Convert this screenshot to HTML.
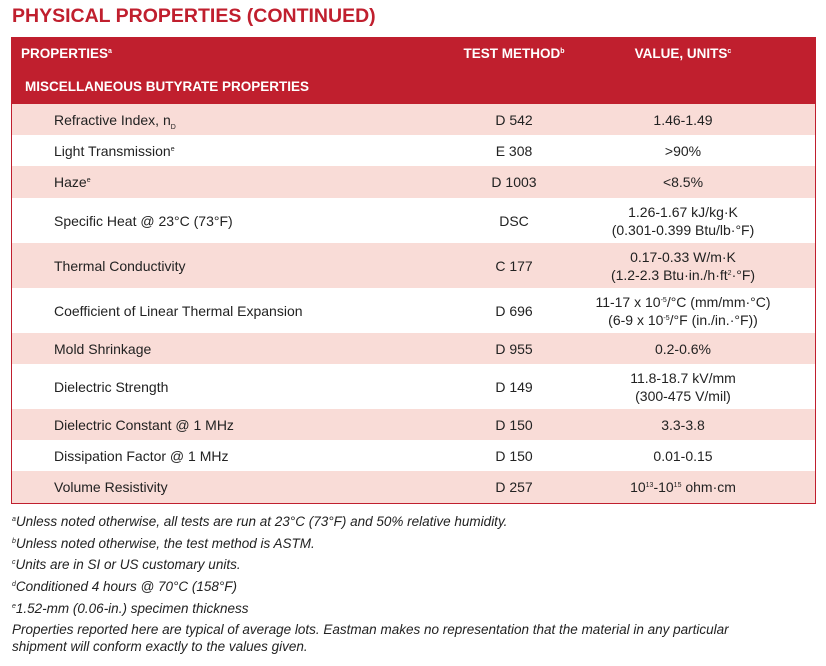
<!DOCTYPE html>
<html><head><style>
body{margin:0;width:826px;height:666px;background:#fff;font-family:"Liberation Sans",sans-serif;color:#222;position:relative;overflow:hidden}
h1{position:absolute;left:12px;top:5px;margin:0;font-size:19.5px;font-weight:bold;color:#c01f2e;letter-spacing:0}
#t{position:absolute;left:11px;top:37px;width:803px;border:1px solid #c01f2e;border-top:none}
.r{position:relative;font-size:14px}
.r div{position:absolute;top:50%;transform:translateY(-50%);line-height:18px}
.p{left:42px}.m{left:440px;width:124px;text-align:center}.v{left:562px;width:218px;text-align:center}
.pk{background:#f9dcd7}
.hd{background:#c01f2e;color:#fff;font-weight:bold;font-size:13.5px}
sup{font-size:7px;vertical-align:5px;line-height:0}
sub{font-size:7px;line-height:0}
#f{position:absolute;left:12px;top:511px;font-size:13.5px;font-style:italic;line-height:21.7px;color:#222}
</style></head><body>
<h1>PHYSICAL PROPERTIES (CONTINUED)</h1>
<div id="t">
<div class="r hd" style="height:33px"><div style="left:9px">PROPERTIES<sup>a</sup></div><div class="m">TEST METHOD<sup>b</sup></div><div class="v">VALUE, UNITS<sup>c</sup></div></div>
<div class="r hd" style="height:34px"><div style="left:13px">MISCELLANEOUS BUTYRATE PROPERTIES</div></div>
<div class="r pk" style="height:31px"><div class="p">Refractive Index, n<sub>D</sub></div><div class="m">D 542</div><div class="v">1.46-1.49</div></div>
<div class="r" style="height:31px"><div class="p">Light Transmission<sup>e</sup></div><div class="m">E 308</div><div class="v">&gt;90%</div></div>
<div class="r pk" style="height:32px"><div class="p">Haze<sup>e</sup></div><div class="m">D 1003</div><div class="v">&lt;8.5%</div></div>
<div class="r" style="height:45px"><div class="p">Specific Heat @ 23°C (73°F)</div><div class="m">DSC</div><div class="v">1.26-1.67 kJ/kg·K<br>(0.301-0.399 Btu/lb·°F)</div></div>
<div class="r pk" style="height:45px"><div class="p">Thermal Conductivity</div><div class="m">C 177</div><div class="v">0.17-0.33 W/m·K<br>(1.2-2.3 Btu·in./h·ft<sup>2</sup>·°F)</div></div>
<div class="r" style="height:45px"><div class="p">Coefficient of Linear Thermal Expansion</div><div class="m">D 696</div><div class="v">11-17 x 10<sup>-5</sup>/°C (mm/mm·°C)<br>(6-9 x 10<sup>-5</sup>/°F (in./in.·°F))</div></div>
<div class="r pk" style="height:31px"><div class="p">Mold Shrinkage</div><div class="m">D 955</div><div class="v">0.2-0.6%</div></div>
<div class="r" style="height:45px"><div class="p">Dielectric Strength</div><div class="m">D 149</div><div class="v">11.8-18.7 kV/mm<br>(300-475 V/mil)</div></div>
<div class="r pk" style="height:31px"><div class="p">Dielectric Constant @ 1 MHz</div><div class="m">D 150</div><div class="v">3.3-3.8</div></div>
<div class="r" style="height:31px"><div class="p">Dissipation Factor @ 1 MHz</div><div class="m">D 150</div><div class="v">0.01-0.15</div></div>
<div class="r pk" style="height:32px"><div class="p">Volume Resistivity</div><div class="m">D 257</div><div class="v">10<sup>13</sup>-10<sup>15</sup> ohm·cm</div></div>
</div>
<div id="f">
<sup>a</sup>Unless noted otherwise, all tests are run at 23°C (73°F) and 50% relative humidity.<br>
<sup>b</sup>Unless noted otherwise, the test method is ASTM.<br>
<sup>c</sup>Units are in SI or US customary units.<br>
<sup>d</sup>Conditioned 4 hours @ 70°C (158°F)<br>
<sup>e</sup>1.52-mm (0.06-in.) specimen thickness<br>
<span style="line-height:17.5px;display:block;margin-top:1px">Properties reported here are typical of average lots. Eastman makes no representation that the material in any particular<br>shipment will conform exactly to the values given.</span>
</div>
</body></html>
